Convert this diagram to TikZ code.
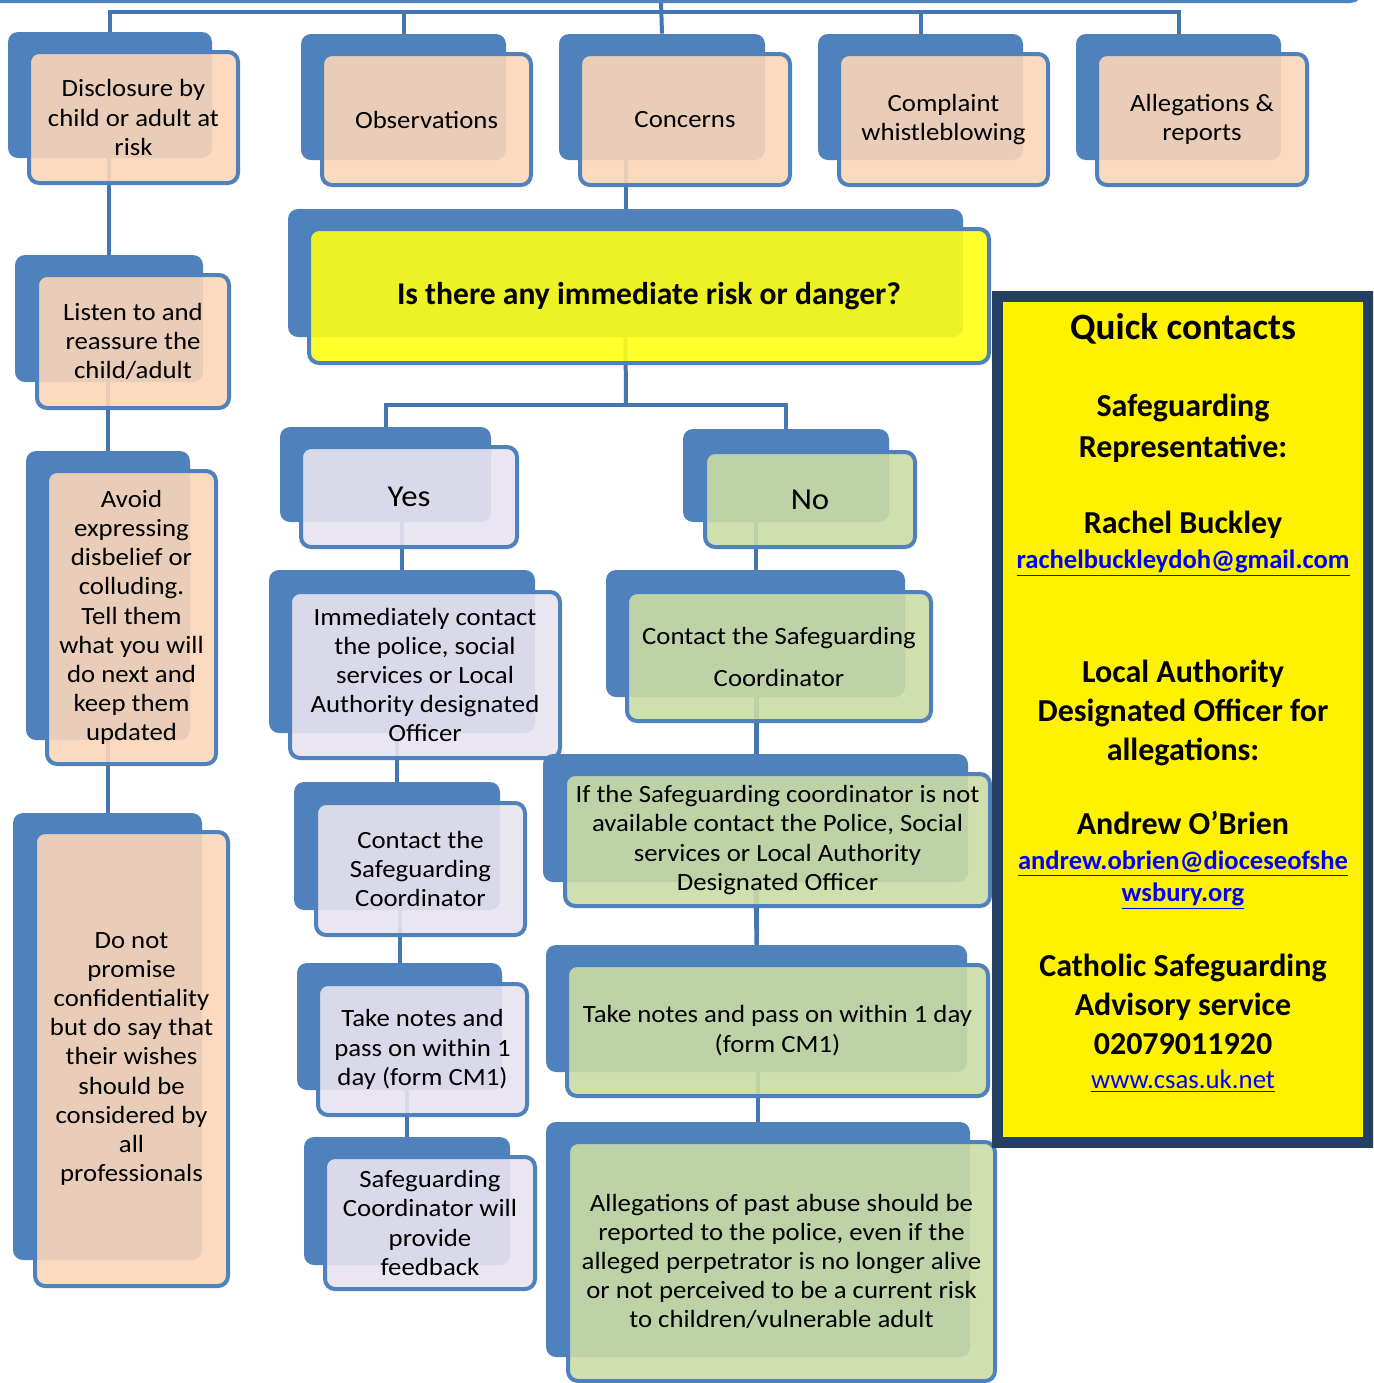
\documentclass[tikz,border=0pt]{standalone}
\usepackage{fontspec}
\setmainfont{Carlito}
\newfontfamily\boxfamily{Carlito}[FakeStretch=1.08]
\usetikzlibrary{fit}

\definecolor{sgblue}{HTML}{4F81BD}
\definecolor{linkblue}{HTML}{4676B2}
\definecolor{peach}{HTML}{FBD6B8}
\definecolor{lavender}{HTML}{E8E3EF}
\definecolor{sggreen}{HTML}{CBDBA5}
\definecolor{qyellow}{HTML}{FFFF14}
\definecolor{navy}{HTML}{243F60}
\definecolor{weblink}{HTML}{0000FF}

\newcommand{\boxfont}{\boxfamily\fontsize{12.4}{14.6}\selectfont}

\pgfdeclarelayer{links}
\pgfsetlayers{links,main}

\tikzset{
  backbox/.style={fill=sgblue, rounded corners=5pt, inner sep=0pt},
  frontbox/.style={draw=sgblue, line width=2pt, fill opacity=0.9,
    rounded corners=5pt, inner sep=0pt},
  boxtext/.style={align=center, font=\boxfont, inner sep=0pt},
  bigtext/.style={align=center, font=\boxfamily\fontsize{15.2}{18}\selectfont, inner sep=0pt},
  link/.style={draw=linkblue, line width=2pt},
  qcframe/.style={draw=navy, line width=5.5pt, fill=yellow, inner sep=0pt},
  qchead/.style={font=\fontsize{18.6}{22}\selectfont\bfseries, align=center},
  qcname/.style={font=\fontsize{16}{19.5}\selectfont\bfseries, align=center},
  qcmail/.style={font=\fontsize{13.3}{16}\selectfont\bfseries, text=weblink, align=center},
  qcweb/.style={font=\fontsize{13.4}{16}\selectfont, text=weblink, align=center},
}

\begin{document}
\begin{tikzpicture}[x=0.5pt, y=-0.5pt]
  \useasboundingbox (0,0) rectangle (1373,1383);
  \clip (0,0) rectangle (1373,1383);

  % edge of the box above
  \draw[sgblue, line width=2pt, rounded corners=6pt] (-20,-60) rectangle (1362,1);
  \coordinate (top) at (661,1);
  \coordinate (bus) at (661,12);
  \coordinate (fork) at (626,405);

  % --- back boxes
  \node[backbox, fit={(8,32) (212,158)}] (discb) {};
  \node[backbox, fit={(301,34) (506,160)}] (obsb) {};
  \node[backbox, fit={(559,34) (765,160)}] (concb) {};
  \node[backbox, fit={(818,34) (1023,160)}] (compb) {};
  \node[backbox, fit={(1076,34) (1281,160)}] (allegb) {};

  \node[backbox, fit={(15,255) (203,382)}] (listb) {};
  \node[backbox, fit={(26,451) (190,740)}] (avoidb) {};
  \node[backbox, fit={(13,813) (202,1260)}] (promb) {};

  \node[backbox, fit={(288,209) (963,337)}] (questb) {};
  \node[backbox, fit={(280,427) (491,522)}] (yesb) {};
  \node[backbox, fit={(683,429) (889,522)}] (nob) {};
  \node[backbox, fit={(269,570) (535,733)}] (immb) {};
  \node[backbox, fit={(606,570) (905,697)}] (contrb) {};
  \node[backbox, fit={(294,782) (500,910)}] (contlb) {};
  \node[backbox, fit={(297,963) (502,1090)}] (notelb) {};
  \node[backbox, fit={(304,1137) (510,1265)}] (feedb) {};
  \node[backbox, fit={(546,945) (967,1072)}] (noterb) {};
  \node[backbox, fit={(546,1122) (970,1357)}] (pastb) {};

  % --- connectors, kept behind the boxes
  \begin{pgfonlayer}{links}
    \draw[link] (top) -- (concb.north);
    \draw[link] (discb.north) -- (discb.north |- bus) -- (allegb.north |- bus) -- (allegb.north);
    \draw[link] (obsb.north) -- (obsb.north |- bus);
    \draw[link] (compb.north) -- (compb.north |- bus);
    \draw[link] (listb.north) -- (listb.north |- discb.south);
    \draw[link] (avoidb.north) -- (avoidb.north |- listb.south);
    \draw[link] (promb.north) -- (promb.north |- avoidb.south);
    \draw[link] (questb.north) -- (questb.north |- concb.south);
    \draw[link] (questb.south) -- (fork);
    \draw[link] (yesb.north) -- (yesb.north |- fork) -- (nob.north |- fork) -- (nob.north);
    \draw[link] (immb.north) -- (immb.north |- yesb.south);
    \draw[link] (contrb.north) -- (contrb.north |- nob.south);
    \draw[link] (contlb.north) -- (contlb.north |- immb.south);
    \draw[link] (notelb.north) -- (notelb.north |- contlb.south);
    \draw[link] (feedb.north) -- (feedb.north |- notelb.south);
    \draw[link] (noterb.north) -- (noterb.north |- contrb.south);
    \draw[link] (pastb.north) -- (pastb.north |- noterb.south);
  \end{pgfonlayer}

  % --- front boxes
  \node[frontbox, fill=peach, fit={(29,52) (238,183)},
        label={[boxtext]center:{Disclosure by\\child or adult at\\risk}}] (disc) {};
  \node[frontbox, fill=peach, fit={(322,54) (531,185)},
        label={[boxtext]center:Observations}] (obs) {};
  \node[frontbox, fill=peach, fit={(580,54) (790,185)},
        label={[boxtext]center:Concerns}] (conc) {};
  \node[frontbox, fill=peach, fit={(839,54) (1048,185)},
        label={[boxtext]center:{Complaint\\whistleblowing}}] (comp) {};
  \node[frontbox, fill=peach, fit={(1097,54) (1307,185)},
        label={[boxtext]center:{Allegations \&\\reports}}] (alleg) {};

  \node[frontbox, fill=peach, fit={(37,275) (229,408)},
        label={[boxtext]center:{Listen to and\\reassure the\\child/adult}}] (list) {};
  \node[frontbox, fill=peach, fit={(47,471) (216,764)},
        label={[boxtext]center:{Avoid\\expressing\\disbelief or\\colluding.\\Tell them\\what you will\\do next and\\keep them\\updated}}] (avoid) {};
  \node[frontbox, fill=peach, fit={(35,832) (228,1286)},
        label={[boxtext]center:{Do not\\promise\\confidentiality\\but do say that\\their wishes\\should be\\considered by\\all\\professionals}}] (prom) {};

  \node[frontbox, fill=qyellow, fit={(309,229) (989,363)},
        label={[align=center, font=\fontsize{15.8}{19}\selectfont\bfseries]center:Is there any immediate risk or danger?}] (quest) {};

  \node[frontbox, fill=lavender, fit={(301,447) (517,547)},
        label={[bigtext]center:Yes}] (yes) {};
  \node[frontbox, fill=sggreen, fit={(705,452) (915,547)},
        label={[bigtext]center:No}] (no) {};

  \node[frontbox, fill=lavender, fit={(290,592) (560,758)},
        label={[boxtext]center:{Immediately contact\\the police, social\\services or Local\\Authority designated\\Officer}}] (imm) {};
  \node[frontbox, fill=sggreen, fit={(627,592) (931,721)},
        label={[boxtext]center:{Contact the Safeguarding\\[6.4pt]Coordinator}}] (contr) {};
  \node[frontbox, fill=lavender, fit={(316,803) (525,935)},
        label={[boxtext]center:{Contact the\\Safeguarding\\Coordinator}}] (contl) {};

  \node[backbox, fit={(543,754) (968,882)}] (ifb) {};
  \begin{pgfonlayer}{links}
    \draw[link] (ifb.north) -- (ifb.north |- contrb.south);
    \draw[link] (ifb.south) -- (noterb.north);
  \end{pgfonlayer}
  \node[frontbox, fill=sggreen, fit={(565,774) (990,906)},
        label={[boxtext]center:{If the Safeguarding coordinator is not\\available contact the Police, Social\\services or Local Authority\\Designated Officer}}] (if) {};

  \node[frontbox, fill=lavender, fit={(318,984) (527,1115)},
        label={[boxtext]center:{Take notes and\\pass on within 1\\day (form CM1)}}] (notel) {};
  \node[frontbox, fill=sggreen, fit={(567,965) (988,1096)},
        label={[boxtext]center:{Take notes and pass on within 1 day\\(form CM1)}}] (noter) {};
  \node[frontbox, fill=lavender, fit={(325,1157) (535,1289)},
        label={[boxtext]center:{Safeguarding\\Coordinator will\\provide\\feedback}}] (feed) {};
  \node[frontbox, fill=sggreen, fit={(568,1142) (995,1381)},
        label={[boxtext]center:{Allegations of past abuse should be\\reported to the police, even if the\\alleged perpetrator is no longer alive\\or not perceived to be a current risk\\to children/vulnerable adult}}] (past) {};

  % --- quick contacts
  \node[qcframe, fit={(997,296) (1368,1142)}] (qc) {};
  \node[qchead] (qctitle) at (1183,329) {Quick contacts};
  \node[qcname] (qcrole1) at (1183,428) {Safeguarding\\[1pt]Representative:};
  \node[qcname] (qcrep) at (1183,525) {Rachel Buckley};
  \node[qcmail] (qcmail1) at (1183,563) {\underline{rachelbuckleydoh@gmail.com}};
  \node[qcname] (qcrole2) at (1183,713) {Local Authority\\Designated Officer for\\allegations:};
  \node[qcname] (qcado) at (1183,823) {Andrew O’Brien};
  \node[qcmail] (qcmail2) at (1183,880) {\underline{andrew.obrien@dioceseofshe}\\\underline{wsbury.org}};
  \node[qcname] (qccsas) at (1183,1004) {Catholic Safeguarding\\Advisory service\\02079011920};
  \node[qcweb] (qcweb) at (1183,1081) {\underline{www.csas.uk.net}};
\end{tikzpicture}
\end{document}
